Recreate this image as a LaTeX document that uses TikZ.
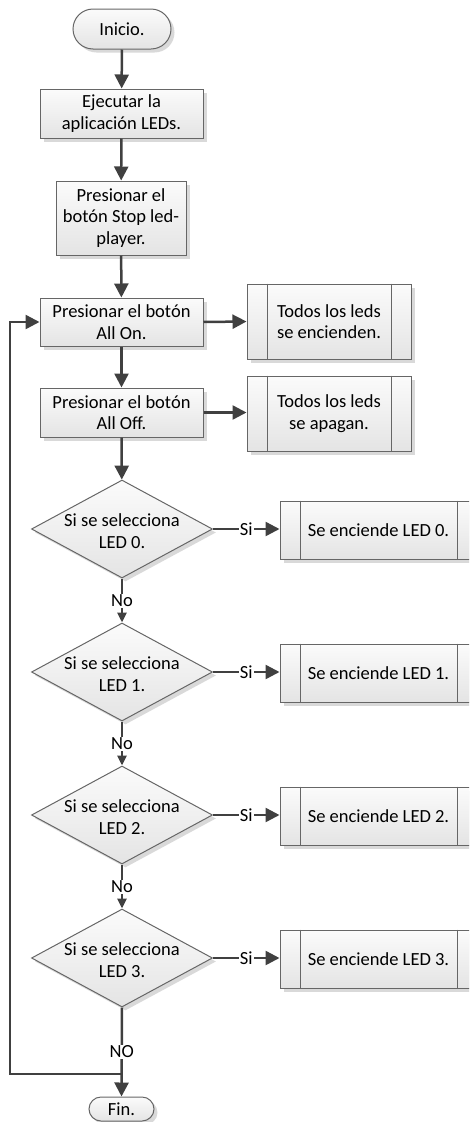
\documentclass[tikz,border=0pt]{standalone}
\usepackage{fontspec}
\setmainfont{Carlito}
\usetikzlibrary{arrows.meta,shapes.geometric,shadows}
\definecolor{conn}{HTML}{404040}
\definecolor{edge}{HTML}{666666}
\definecolor{shade}{HTML}{D9D9D9}
\definecolor{filltop}{HTML}{FBFBFB}
\definecolor{fillbot}{HTML}{E4E4E4}
\tikzset{
  txt/.style={font=\fontsize{18.5}{21.5}\selectfont},
  base/.style={draw=edge, line width=1pt, top color=filltop, bottom color=fillbot,
    inner sep=0pt, align=center, txt,
    drop shadow={shadow xshift=3.5pt, shadow yshift=-3.5pt, fill=shade, opacity=1}},
  procbox/.style={base, rectangle},
  subbox/.style={base, rectangle},
  decision/.style={base, diamond, minimum width=181pt, minimum height=98pt},
  flow/.style={draw=conn, line width=2.5pt, -{Triangle[length=14pt,width=14pt]}},
  smallflow/.style={draw=conn, line width=2.5pt, -{Triangle[length=10pt,width=9pt]}},
  lbl/.style={fill=white, inner sep=1pt, txt},
  inner/.style={draw=edge, line width=1pt}
}
\begin{document}
\begin{tikzpicture}[x=1pt, y=-1pt]
\useasboundingbox (0,0) rectangle (469,1122);
\clip (0,0) rectangle (469,1122);

% start / end terminals
\node[base, rounded corners=20pt, minimum width=98pt, minimum height=40pt] (ini) at (122,29) {Inicio.};
\node[base, rounded corners=12pt, minimum width=65pt, minimum height=24pt] (fin) at (121.5,1109) {Fin.};

% main process steps
\node[procbox, minimum width=163pt, minimum height=49pt] (ejec) at (121.5,113.5) {Ejecutar la\\aplicación LEDs.};
\node[procbox, minimum width=130pt, minimum height=74pt] (stop) at (121,218) {Presionar el\\botón Stop led-\\player.};
\node[procbox, minimum width=163pt, minimum height=48pt] (allon) at (121.5,322) {Presionar el botón\\All On.};
\node[procbox, minimum width=163pt, minimum height=49pt] (alloff) at (121.5,412.5) {Presionar el botón\\All Off.};

% predefined processes for All On / All Off
\node[subbox, minimum width=164pt, minimum height=75pt] (encall) at (329,321.5) {Todos los leds\\se encienden.};
\node[subbox, minimum width=164pt, minimum height=75pt] (apall) at (329,413.5) {Todos los leds\\se apagan.};

% decisions
\foreach \i/\y in {0/529,1/672,2/815,3/958}{
  \node[decision] (d\i) at (122,\y) {};
  \node[txt, align=center] (dt\i) at (122,\y+2) {Si se selecciona\\LED \i.};
  \node[subbox, minimum width=197pt, minimum height=58pt] (led\i) at (378.5,\y+1) {};
  \node[txt] (lt\i) at (378.5,\y+1) {Se enciende LED \i.};
}

% inner bars of the predefined-process boxes
\foreach \n in {encall,apall,led0,led1,led2,led3}{
  \draw[inner] ([xshift=20.5]\n.north west) -- ([xshift=20.5]\n.south west);
  \draw[inner] ([xshift=-20.5]\n.north east) -- ([xshift=-20.5]\n.south east);
}

% main flow
\draw[flow] (ini) -- (ejec);
\draw[flow] (ejec) -- (stop);
\draw[flow] (stop) -- (allon);
\draw[flow] (allon) -- (alloff);
\draw[flow] (allon.east) -- (encall.west);
\draw[flow] (alloff.east) -- (alloff.east -| apall.west);
\draw[flow] (alloff) -- (d0);

\foreach \i in {0,1,2,3}{
  \draw[flow] (d\i.east) -- node[lbl] (si\i) {Si} (d\i.east -| led\i.west);
}
\foreach \i/\j in {0/1,1/2,2/3}{
  \draw[smallflow] (d\i.south) -- node[lbl] (no\i) {No} (d\j.north);
}

% last decision to the end, with the loop back to All On
\draw[flow] (d3.south) -- node[lbl] (no3) {NO} (fin.north);
\coordinate (jn) at (122,1074);
\draw[flow] (jn) -- ++(-112,0) |- (allon.west);
\end{tikzpicture}
\end{document}
